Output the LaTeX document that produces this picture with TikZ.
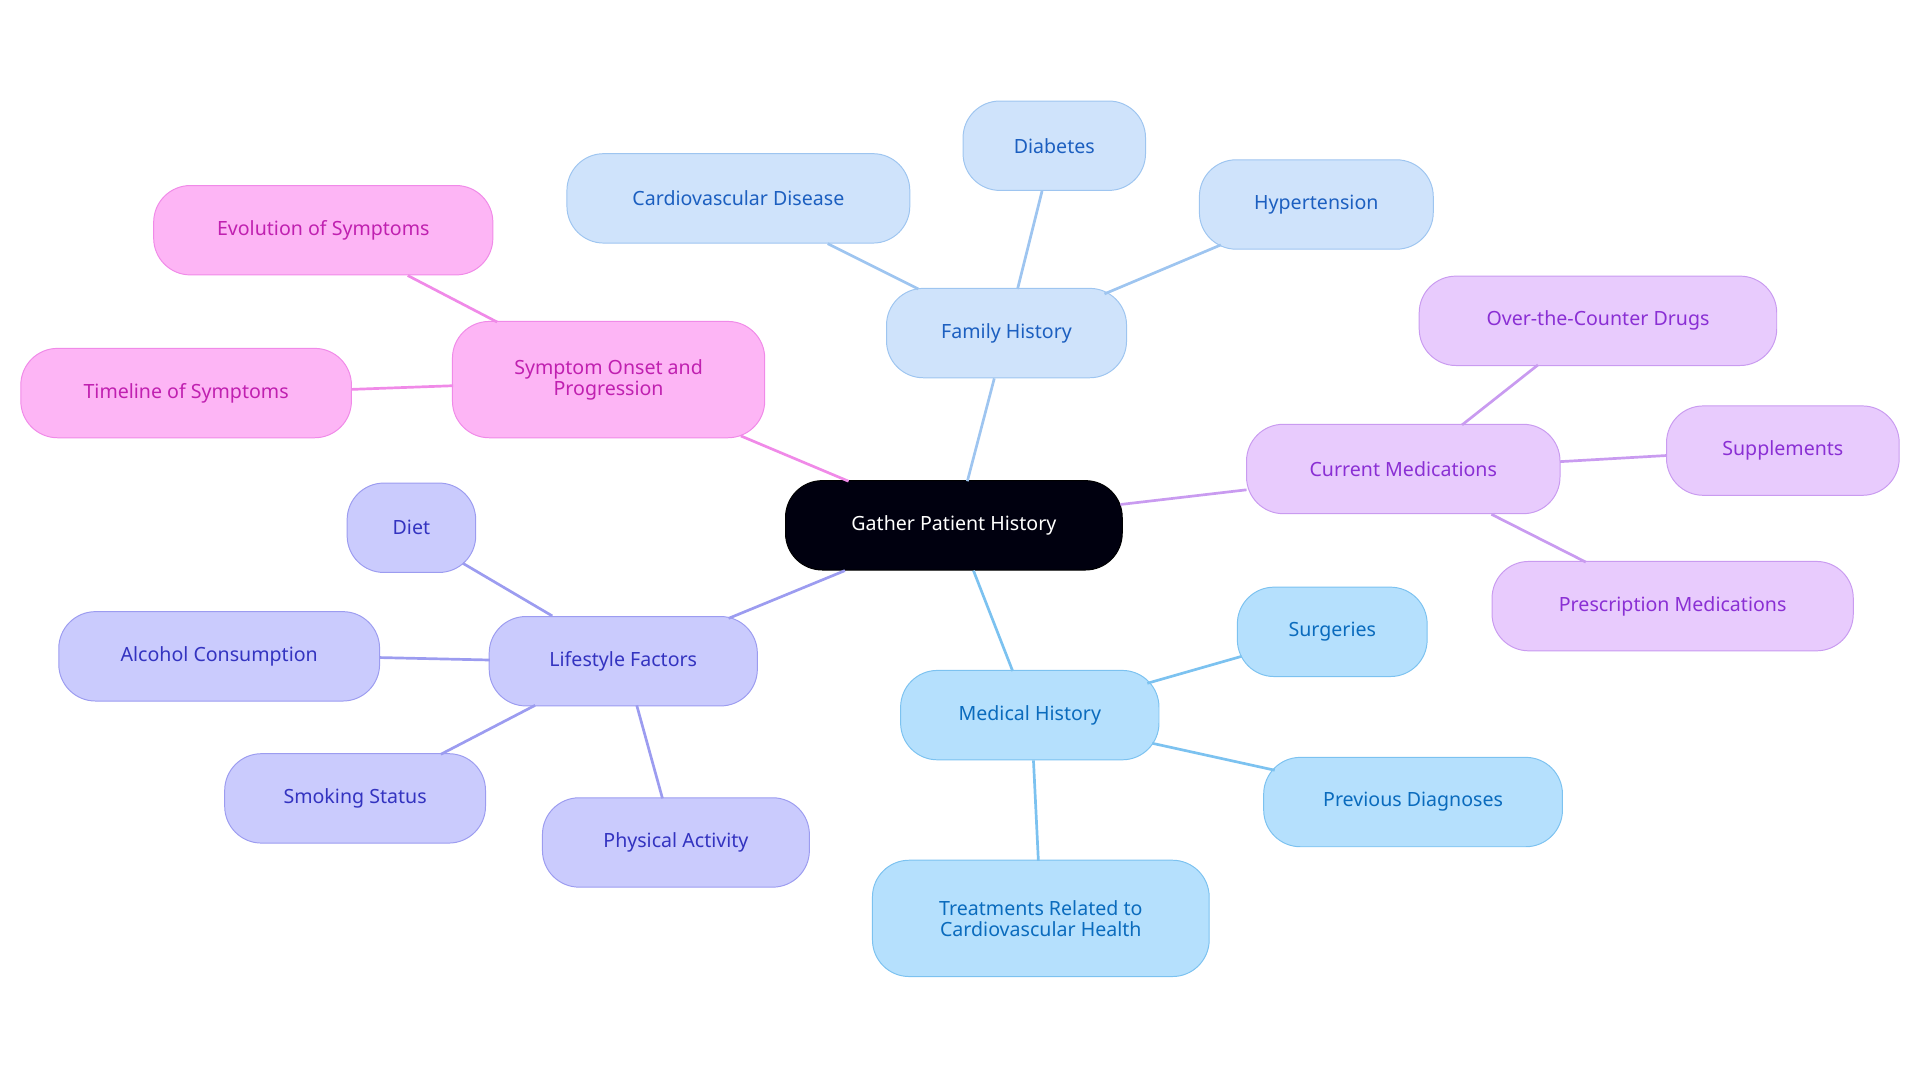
\documentclass[tikz,border=0pt]{standalone}
\usepackage{fontspec}
\setmainfont{Noto Sans}
\begin{document}
\begin{tikzpicture}[x=1pt,y=-1pt,
 base/.style={rounded corners=30pt,line width=0.8pt,minimum height=73pt,align=center,font=\fontsize{16}{17}\selectfont,inner sep=0pt},
 fam/.style={base,fill=famf,draw=famd,text=famt},
 med/.style={base,fill=medf,draw=medd,text=medt},
 cur/.style={base,fill=curf,draw=curd,text=curt},
 lif/.style={base,fill=liff,draw=lifd,text=lift},
 sym/.style={base,fill=symf,draw=symd,text=symt},
 e/.style={line width=2.2pt}]
\definecolor{famf}{HTML}{CFE3FB}\definecolor{famd}{HTML}{9EC5F0}\definecolor{famt}{HTML}{1C5FC0}
\definecolor{medf}{HTML}{B5E0FD}\definecolor{medd}{HTML}{7CC2F0}\definecolor{medt}{HTML}{0A6BBD}
\definecolor{curf}{HTML}{E8CBFD}\definecolor{curd}{HTML}{C99BF0}\definecolor{curt}{HTML}{8A2FD4}
\definecolor{liff}{HTML}{CACBFD}\definecolor{lifd}{HTML}{9C9CF0}\definecolor{lift}{HTML}{3333C0}
\definecolor{symf}{HTML}{FDB5F5}\definecolor{symd}{HTML}{F08AE8}\definecolor{symt}{HTML}{C020B0}
\useasboundingbox (0,0) rectangle (1568,884);
\node[base,fill=black!90!blue!60!black,draw=black,text=white,minimum width=275pt] (g) at (779,429) {Gather Patient History};
\node[fam,minimum width=196pt] (fh) at (822,272) {Family History};
\node[fam,minimum width=280pt] (cd) at (603,162) {Cardiovascular Disease};
\node[fam,minimum width=149pt] (di) at (861,119) {Diabetes};
\node[fam,minimum width=191pt] (hy) at (1075,167) {Hypertension};
\node[cur,minimum width=256pt] (cm) at (1146,383) {Current Medications};
\node[cur,minimum width=292pt] (otc) at (1305,262) {Over-the-Counter Drugs};
\node[cur,minimum width=190pt] (su) at (1456,368) {Supplements};
\node[cur,minimum width=295pt] (pm) at (1366,495) {Prescription Medications};
\node[med,minimum width=211pt] (mh) at (841,584) {Medical History};
\node[med,minimum width=155pt] (sg) at (1088,516) {Surgeries};
\node[med,minimum width=244pt] (pd) at (1154,655) {Previous Diagnoses};
\node[med,minimum width=275pt,minimum height=95pt] (tr) at (850,750) {Treatments Related to\\Cardiovascular Health};
\node[lif,minimum width=219pt] (lf) at (509,540) {Lifestyle Factors};
\node[lif,minimum width=105pt] (dt) at (336,431) {Diet};
\node[lif,minimum width=262pt] (al) at (179,536) {Alcohol Consumption};
\node[lif,minimum width=213pt] (sm) at (290,652) {Smoking Status};
\node[lif,minimum width=218pt] (pa) at (552,688) {Physical Activity};
\node[sym,minimum width=255pt,minimum height=95pt] (so) at (497,310) {Symptom Onset and\\Progression};
\node[sym,minimum width=277pt] (ev) at (264,188) {Evolution of Symptoms};
\node[sym,minimum width=270pt] (tl) at (152,321) {Timeline of Symptoms};
\begin{scope}[on background layer/.style={}]
\end{scope}
\begin{pgfonlayer}{main}\end{pgfonlayer}
\draw[e,famd] (790,393) -- (812,309);
\draw[e,famd] (750,236) -- (676,199);
\draw[e,famd] (831,236) -- (851,156);
\draw[e,famd] (902,240) -- (997,200);
\draw[e,curd] (915,412) -- (1018,400);
\draw[e,curd] (1194,347) -- (1256,298);
\draw[e,curd] (1274,377) -- (1361,372);
\draw[e,curd] (1218,420) -- (1295,459);
\draw[e,medd] (795,466) -- (827,548);
\draw[e,medd] (937,558) -- (1014,536);
\draw[e,medd] (941,607) -- (1041,629);
\draw[e,medd] (844,621) -- (848,703);
\draw[e,lifd] (690,466) -- (595,505);
\draw[e,lifd] (451,503) -- (378,460);
\draw[e,lifd] (400,539) -- (310,537);
\draw[e,lifd] (437,576) -- (360,616);
\draw[e,lifd] (520,576) -- (541,652);
\draw[e,symd] (693,393) -- (605,356);
\draw[e,symd] (406,263) -- (333,225);
\draw[e,symd] (370,315) -- (287,318);
\end{tikzpicture}
\end{document}
